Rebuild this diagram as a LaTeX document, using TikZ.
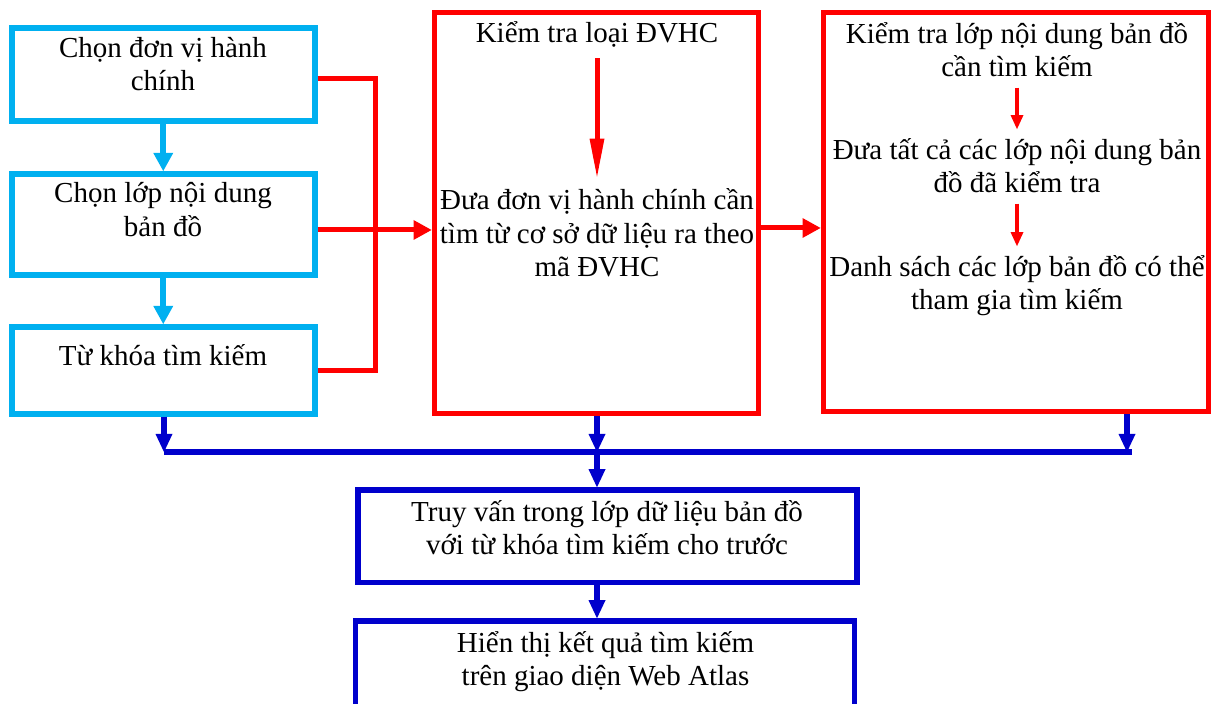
\documentclass[tikz,border=0pt]{standalone}
\usepackage{fontspec}
\setmainfont{Liberation Serif}
\usetikzlibrary{arrows.meta}
\definecolor{boxcyan}{RGB}{0,176,240}
\definecolor{boxred}{RGB}{255,0,0}
\definecolor{boxblue}{RGB}{0,0,204}
\tikzset{
  txt/.style={align=center, inner sep=0pt, anchor=base, font=\fontsize{14.5pt}{16.75pt}\selectfont},
  cbox/.style={draw=boxcyan, line width=3pt, inner sep=0pt, minimum width=151.25pt},
  rbox/.style={draw=boxred, line width=2.5pt, inner sep=0pt},
  blbox/.style={draw=boxblue, line width=2.75pt, inner sep=0pt, minimum width=249.5pt},
  carrow/.style={color=boxcyan, line width=3pt, -{Triangle[length=9pt,width=10pt,line width=0pt]}},
  rline/.style={color=boxred, line width=2.5pt},
  rarrow/.style={rline, -{Triangle[length=9pt,width=10pt,line width=0pt]}},
  rlong/.style={color=boxred, line width=2.5pt, -{Triangle[length=19pt,width=7.5pt,line width=0pt]}},
  rshort/.style={color=boxred, line width=2pt, -{Triangle[length=7pt,width=6.5pt,line width=0pt]}},
  blline/.style={color=boxblue, line width=2.75pt},
  barrow/.style={blline, -{Triangle[length=9pt,width=8.5pt,line width=0pt]}}
}
\begin{document}
\begin{tikzpicture}[x=0.5pt, y=-0.5pt]
  \useasboundingbox (0,0) rectangle (1211,704);
  \clip (0,0) rectangle (1211,704);
  % left column (text nodes sit on their last baseline)
  \node[cbox, minimum height=46.5pt]  (chondv)  at (163.25,74.5)   {};
  \node[cbox, minimum height=50.75pt] (chonlop) at (163.25,224.75) {};
  \node[cbox, minimum height=43.35pt] (tukhoa)  at (163.25,370.35) {};
  \node[txt] (chondvt)  at (163,90.7)  {Chọn đơn vị hành\\chính};
  \node[txt] (chonlopt) at (163,236.5) {Chọn lớp nội dung\\bản đồ};
  \node[txt] (tukhoat)  at (163,366)   {Từ khóa tìm kiếm};
  \path[carrow] (chondv) edge (chonlop)
                (chonlop) edge (tukhoa);

  % red boxes
  \node[rbox, minimum width=162pt, minimum height=200.5pt]   (dvhc)  at (596,213.5)    {};
  \node[rbox, minimum width=192.75pt, minimum height=199.5pt] (lopbd) at (1015.75,212.5) {};
  \node[txt] (ktloai)   at (597,43)    {Kiểm tra loại ĐVHC};
  \node[txt] (duadv)    at (597,277)   {Đưa đơn vị hành chính cần\\tìm từ cơ sở dữ liệu ra theo\\mã ĐVHC};
  \node[txt] (ktlop)    at (1017,77)   {Kiểm tra lớp nội dung bản đồ\\cần tìm kiếm};
  \node[txt] (duatat)   at (1017,193)  {Đưa tất cả các lớp nội dung bản\\đồ đã kiểm tra};
  \node[txt] (danhsach) at (1017,310)  {Danh sách các lớp bản đồ có thể\\tham gia tìm kiếm};
  \path[rlong] (ktloai) edge[shorten <=5pt, shorten >=6pt] (duadv);
  \path[rshort] (ktlop) edge[shorten <=5pt, shorten >=4.5pt] (duatat)
                (duatat) edge[shorten <=5pt, shorten >=4.5pt] (danhsach);

  \coordinate (rjoin) at (375,230);
  \coordinate (rmid)  at (790,228);
  \draw[rline] ([yshift=-2pt]chondv.east) -| (rjoin) |- (tukhoa.east);
  \draw[rarrow] (chonlop.east |- rjoin) -- (dvhc.west |- rjoin);
  \draw[rarrow] (dvhc.east |- rmid) -- (lopbd.west |- rmid);

  % bottom
  \node[blbox, minimum height=46.25pt] (truyvan) at (607.5,536.25) {};
  \node[blbox, minimum height=50pt]    (hienthi) at (604.75,671)   {};
  \node[txt] (truyvant) at (607,555)   {Truy vấn trong lớp dữ liệu bản đồ\\với từ khóa tìm kiếm cho trước};
  \node[txt] (hienthit) at (605.5,686) {Hiển thị kết quả tìm kiếm\\trên giao diện Web Atlas};

  \coordinate (barl)   at (164,452);
  \coordinate (barm)   at (597,452);
  \coordinate (barr)   at (1127,452);
  \coordinate (barend) at (1132,452);
  \draw[blline] (barl) -- (barend);
  \draw[barrow] (tukhoa.south -| barl) -- (barl);
  \draw[barrow] (dvhc.south -| barm) -- (barm);
  \draw[barrow] (lopbd.south -| barr) -- (barr);
  \draw[barrow] (barm) -- (truyvan.north -| barm);
  \draw[barrow] (truyvan.south -| barm) -- (hienthi.north -| barm);
\end{tikzpicture}
\end{document}
